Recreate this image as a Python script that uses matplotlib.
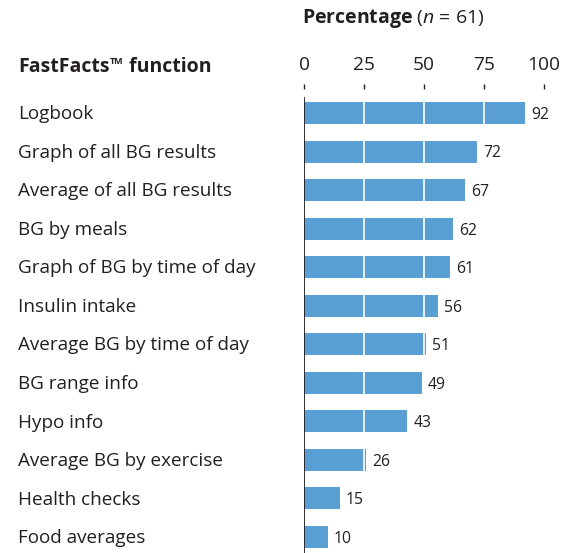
import matplotlib
matplotlib.use("Agg")
import matplotlib.pyplot as plt
from matplotlib.transforms import blended_transform_factory

# data
functions = ["Logbook", "Graph of all BG results", "Average of all BG results",
             "BG by meals", "Graph of BG by time of day", "Insulin intake",
             "Average BG by time of day", "BG range info", "Hypo info",
             "Average BG by exercise", "Health checks", "Food averages"]
percentages = [92, 72, 67, 62, 61, 56, 51, 49, 43, 26, 15, 10]
ticks = [0, 25, 50, 75, 100]

plt.rcParams['font.family'] = ['Open Sans', 'DejaVu Sans']
plt.rcParams['mathtext.fontset'] = 'custom'
plt.rcParams['mathtext.rm'] = 'Open Sans'
plt.rcParams['mathtext.it'] = 'Open Sans:italic'
plt.rcParams['mathtext.bf'] = 'Open Sans:bold'

W, H = 568, 553
fig = plt.figure(figsize=(W / 100, H / 100), dpi=100)

# axes: x 0..100 spans px 304..544, top at px 84, bottom at figure edge
ax = fig.add_axes([304 / W, 0, 240 / W, (H - 84) / H])

bar_color = "#5a9fd4"
text_color = "#231f20"

y = list(range(len(functions)))
ax.barh(y, percentages, height=0.57, color=bar_color, zorder=2)

# white lines across bars
for t in ticks[1:-1]:
    ax.axvline(t, ymin=0, ymax=0.965, color="white", lw=1.2, zorder=3)

# left axis line
ax.axvline(0, ymin=0, ymax=(H - 98) / (H - 84), color="#231f20", lw=1.3, zorder=4)

for yi, v in zip(y, percentages):
    ax.text(v + 2.5, yi + 0.05, str(v), ha="left", va="center",
            fontsize=11.3, color=text_color)

trans = blended_transform_factory(fig.transFigure, ax.transData)
for yi, name in zip(y, functions):
    ax.text(18 / W, yi + 0.03, name, transform=trans, ha="left", va="center",
            fontsize=13.6, color=text_color)

ax.set_xlim(0, 100)
ax.set_ylim(11.415, -0.752)
for s in ax.spines.values():
    s.set_visible(False)
ax.set_yticks([])
ax.set_xticks(ticks)
ax.xaxis.tick_top()
ax.tick_params(axis="x", direction="in", length=3.6, width=1, color=text_color,
               pad=7, labelsize=13.8, labelcolor=text_color)

# header with small trademark sign
t1 = fig.text(18 / W, 1 - 77 / H, "FastFacts", ha="left", va="bottom",
              fontsize=14, fontweight="bold", color=text_color)
t2 = ax.annotate("TM", xy=(1, 1), xycoords=t1, xytext=(0.5, 0),
                 textcoords="offset points", ha="left", va="top",
                 fontsize=6.5, fontweight="bold", color=text_color,
                 annotation_clip=False)
ax.annotate(" function", xy=(1, 0), xycoords=(t2, t1), ha="left", va="bottom",
            fontsize=14, fontweight="bold", color=text_color,
            annotation_clip=False)
fig.text(302 / W, 1 - 18 / H, r"$\bf{Percentage}$ ($\it{n}$ = 61)", ha="left",
         va="center", fontsize=14, color=text_color)

fig.savefig("out.png", dpi=100)
